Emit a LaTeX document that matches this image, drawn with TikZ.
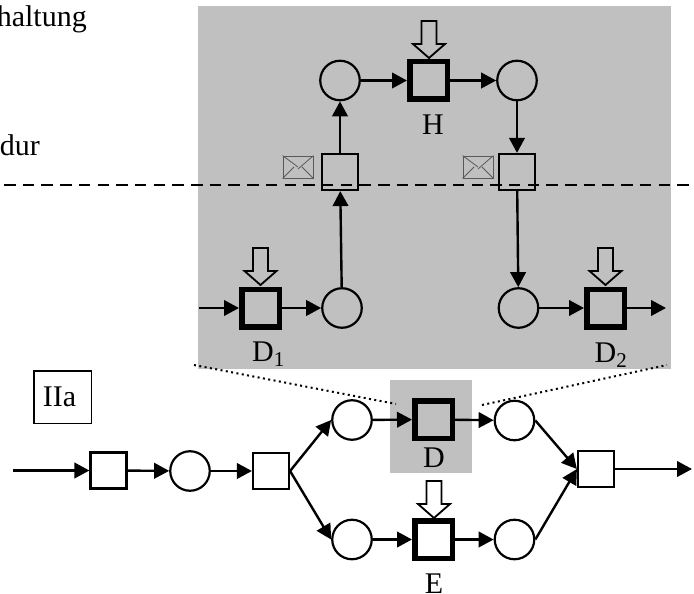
\documentclass[tikz,border=0pt]{standalone}
\usepackage{fontspec}
\setmainfont{Liberation Serif}
\usetikzlibrary{arrows.meta}
\tikzset{
  x=1pt,y=-1pt,
  place/.style={circle,draw,line width=2.2pt,minimum size=39.5pt,inner sep=0pt},
  trans/.style={rectangle,draw,line width=2.2pt,minimum size=36pt,inner sep=0pt},
  thick trans/.style={rectangle,draw,line width=5.5pt,minimum size=37.5pt,inner sep=0pt},
  flow/.style={line width=2.4pt,-{Triangle[length=15pt,width=15.5pt]}},
  lab/.style={inner sep=0pt,font=\fontsize{30}{30}\selectfont,anchor=base},
  txt/.style={inner sep=0pt,font=\fontsize{30}{30}\selectfont,anchor=base east},
  blockarrow/.style={line width=1.8pt,line join=miter},
  envelope/.style={draw=black!65,line width=0.8pt,minimum width=30pt,minimum height=22pt,inner sep=0pt,rectangle}
}
\definecolor{panel}{RGB}{192,192,192}
\newcommand{\downblock}[2]{\draw[blockarrow] (#1-7.5,#2-37) -- (#1+7.5,#2-37) -- (#1+7.5,#2-14) -- (#1+16,#2-14) -- (#1,#2) -- (#1-16,#2-14) -- (#1-7.5,#2-14) -- cycle;}
\newcommand{\envelopelines}[1]{\draw[black!65,line width=0.8pt] (#1.north west) -- (#1.center) ++(0,2) -- (#1.north east) (#1.south west) -- ([xshift=-4pt]#1.center) (#1.south east) -- ([xshift=4pt]#1.center);}
\begin{document}
\begin{tikzpicture}
\useasboundingbox (0,0) rectangle (694,594);
\clip (0,0) rectangle (694,594);
\fill[panel] (198,6) rectangle (671,368.5);
\fill[panel] (390,380) rectangle (472,473);

\node[txt] (t1) at (87,27) {haltung};
\node[txt] (t2) at (40,155) {dur};

% inset
\node[place] (a1) at (340,80.5) {};
\node[thick trans] (h) at (428.5,80.5) {};
\node[place] (a2) at (517,80.5) {};
\node[trans] (m1) at (340,172) {};
\node[trans] (m2) at (517,172) {};
\node[envelope] (e1) at (298,167) {};
\node[envelope] (e2) at (478,167) {};
\envelopelines{e1}
\envelopelines{e2}
\node[thick trans] (d1) at (260.5,308) {};
\node[place] (b1) at (342,308) {};
\node[place] (b2) at (518.5,308) {};
\node[thick trans] (d2) at (605.5,308) {};
\coordinate (in1) at (199,308);
\coordinate (out1) at (666,308);
\node[lab] (lh) at (433,134) {H};
\node[lab] (ld1) at (268.5,361.5) {D\textsubscript{1}};
\node[lab] (ld2) at (611,362) {D\textsubscript{2}};

\draw[flow] (a1) -- (h);
\draw[flow] (h) -- (a2);
\draw[flow] (m1) -- (a1);
\draw[flow] (a2) -- (m2);
\draw[flow] (b1) -- (m1);
\draw[flow] (m2) -- (b2);
\draw[flow] (in1) -- (d1);
\draw[flow] (d1) -- (b1);
\draw[flow] (b2) -- (d2);
\draw[flow] (d2) -- (out1);
\downblock{429}{58}
\downblock{260.5}{285}
\downblock{605.5}{285}

\coordinate (dashA) at (4,185);
\coordinate (dashB) at (694,185);
\draw[line width=2.4pt,dash pattern=on 11.5pt off 7.2pt] (dashA) -- (dashB);

% main net
\node[draw,line width=1.5pt,minimum width=57.5pt,minimum height=52.5pt,inner sep=0pt,font=\fontsize{30}{30}\selectfont] (iia) at (62.5,397) {\hspace*{-6pt}IIa};
\coordinate (start) at (13,470.5);
\coordinate (end) at (692,469);
\node[trans] (t3a) at (108.5,470.5) {};
\node[place] (p1) at (190,471) {};
\node[trans] (t3b) at (271,471) {};
\node[place] (p2) at (352,420) {};
\node[place] (p3) at (352,539.5) {};
\node[thick trans] (d) at (433.5,419.5) {};
\node[thick trans] (e) at (433.5,539.5) {};
\node[place] (p4) at (514.5,420.5) {};
\node[place] (p5) at (514.5,539.5) {};
\node[trans] (t4) at (596,469) {};
\node[lab] (ld) at (434,467) {D};
\node[lab] (le) at (434,593) {E};

\draw[flow] (start) -- (t3a);
\draw[flow] (t3a) -- (p1);
\draw[flow] (p1) -- (t3b);
\draw[flow] (t3b.east) -- (p2.west);
\draw[flow] (t3b.east) -- (p3.west);
\draw[flow] (p2) -- (d);
\draw[flow] (p3) -- (e);
\draw[flow] (d) -- (p4);
\draw[flow] (e) -- (p5);
\draw[flow] (p4.east) -- (t4.west);
\draw[flow] (p5.east) -- (t4.west);
\draw[flow] (t4) -- (end);
\downblock{434}{518}

\coordinate (z1) at (194,365);
\coordinate (z2) at (396,404);
\coordinate (z3) at (482,405);
\coordinate (z4) at (667,365);
\draw[line width=2pt,dash pattern=on 2pt off 3.4pt] (z1) -- (z2);
\draw[line width=2pt,dash pattern=on 2pt off 3.4pt] (z3) -- (z4);
\end{tikzpicture}
\end{document}
